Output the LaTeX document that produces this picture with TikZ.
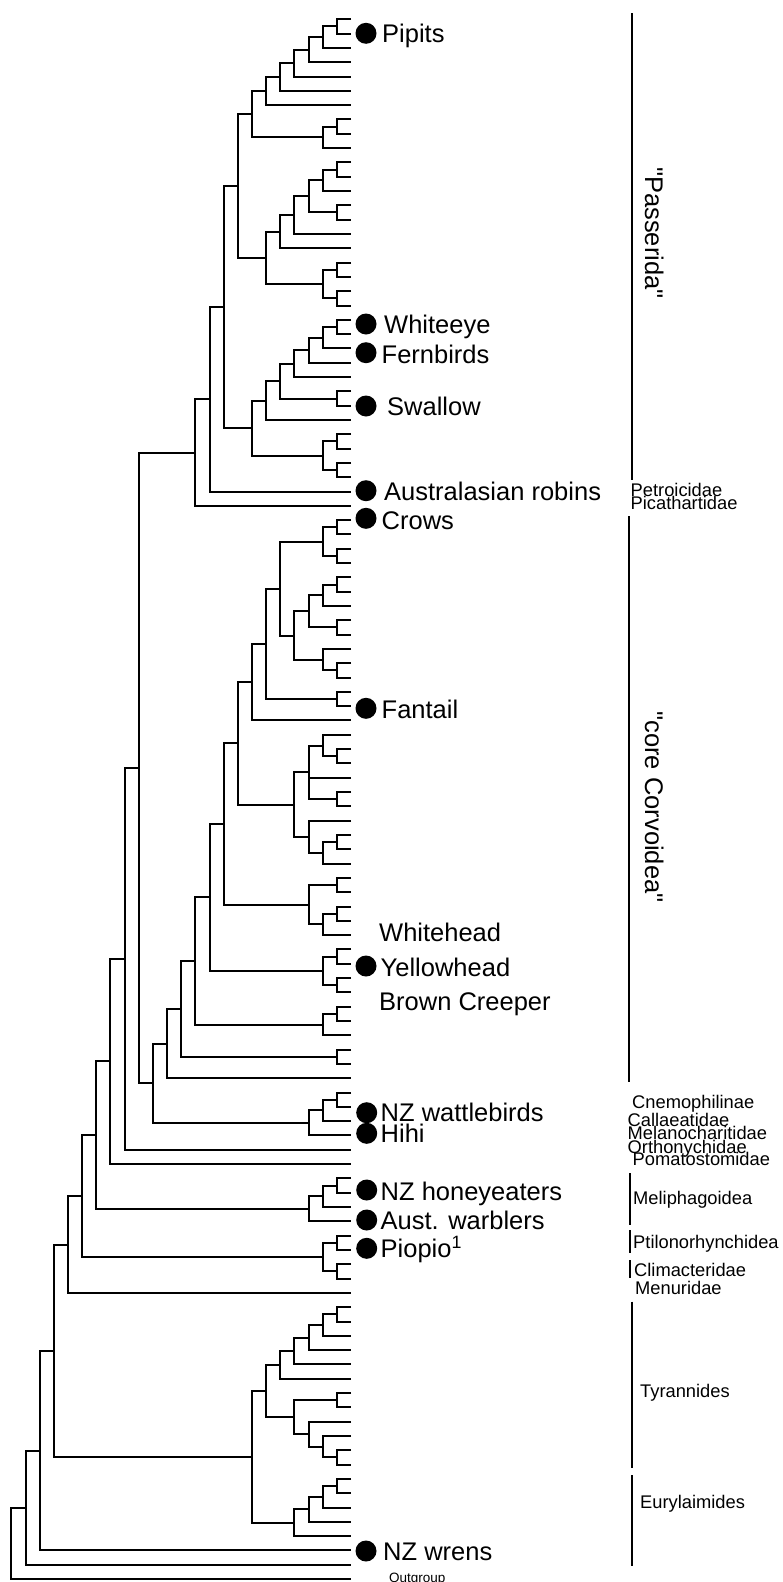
\documentclass[tikz,border=0pt]{standalone}
\usepackage{fontspec}
\setmainfont{Liberation Sans}
\usetikzlibrary{calc}
\tikzset{
  branch/.style={line width=2pt},
  cladebar/.style={line width=2.2pt},
  blob/.style={circle,fill=black,inner sep=0pt,minimum size=21pt},
  taxon/.style={anchor=base west,inner sep=0pt,font=\fontsize{25.5}{26}\selectfont},
  famlabel/.style={anchor=base west,inner sep=0pt,font=\fontsize{18.3}{18}\selectfont},
  grouplabel/.style={anchor=base,rotate=-90,inner sep=0pt,font=\fontsize{25.5}{26}\selectfont},
}
% #1 name, #2 steps back from the tips, #3 first child, #4 last child
\newcommand\clade[4]{%
  \path let \p1=($(#3)!.5!(#4)$) in coordinate (#1) at ({351-14.15*#2},\y1);
  \draw[branch] (#3) -| (#1) |- (#4);
}
\begin{document}
\begin{tikzpicture}[x=1pt,y=-1pt]
\useasboundingbox (0,0) rectangle (783,1582);
% tips
\foreach \i in {0,...,109}
  \coordinate (l\i) at (351,{19.3+14.31*\i});
% Passerida
\clade{pa1}{1}{l0}{l1}
\clade{pa2}{2}{pa1}{l2}
\clade{pa3}{3}{pa2}{l3}
\clade{pa4}{4}{pa3}{l4}
\clade{pa5}{5}{pa4}{l5}
\clade{pa6}{6}{pa5}{l6}
\clade{pb1}{1}{l7}{l8}
\clade{pb2}{2}{pb1}{l9}
\clade{pa7}{7}{pa6}{pb2}
\clade{pc1}{1}{l10}{l11}
\clade{pc2}{2}{pc1}{l12}
\clade{pc3}{1}{l13}{l14}
\clade{pc4}{3}{pc2}{pc3}
\clade{pc5}{4}{pc4}{l15}
\clade{pc6}{5}{pc5}{l16}
\clade{pd1}{1}{l17}{l18}
\clade{pd2}{1}{l19}{l20}
\clade{pd3}{2}{pd1}{pd2}
\clade{pc7}{6}{pc6}{pd3}
\clade{pa8}{8}{pa7}{pc7}
\clade{pe1}{1}{l21}{l22}
\clade{pe2}{2}{pe1}{l23}
\clade{pe3}{3}{pe2}{l24}
\clade{pe4}{4}{pe3}{l25}
\clade{pe5}{1}{l26}{l27}
\clade{pe6}{5}{pe4}{pe5}
\clade{pe7}{6}{pe6}{l28}
\clade{pf1}{1}{l29}{l30}
\clade{pf2}{1}{l31}{l32}
\clade{pf3}{2}{pf1}{pf2}
\clade{pe8}{7}{pe7}{pf3}
\clade{pa9}{9}{pa8}{pe8}
\clade{pa10}{10}{pa9}{l33}
\clade{pa11}{11}{pa10}{l34}
% core Corvoidea
\clade{co1}{1}{l35}{l36}
\clade{co2}{1}{l37}{l38}
\clade{co3}{2}{co1}{co2}
\clade{co4}{1}{l39}{l40}
\clade{co5}{2}{co4}{l41}
\clade{co6}{1}{l42}{l43}
\clade{co7}{3}{co5}{co6}
\clade{co8}{1}{l45}{l46}
\clade{co9}{2}{l44}{co8}
\clade{co10}{4}{co7}{co9}
\clade{co11}{5}{co3}{co10}
\clade{co12}{1}{l47}{l48}
\clade{co13}{6}{co11}{co12}
\clade{co14}{7}{co13}{l49}
\clade{co15}{1}{l51}{l52}
\clade{co16}{2}{l50}{co15}
\clade{co17}{1}{l54}{l55}
\clade{co18}{3}{co16}{co17}
\draw[branch] (l53) -| (co18);
\clade{co19}{1}{l57}{l58}
\clade{co20}{2}{co19}{l59}
\clade{co21}{3}{l56}{co20}
\clade{co22}{4}{co18}{co21}
\clade{co23}{8}{co14}{co22}
\clade{co24}{1}{l60}{l61}
\clade{co25}{1}{l62}{l63}
\clade{co26}{2}{co25}{l64}
\clade{co27}{3}{co24}{co26}
\clade{co28}{9}{co23}{co27}
\clade{co29}{1}{l65}{l66}
\clade{co30}{1}{l67}{l68}
\clade{co31}{2}{co29}{co30}
\clade{co32}{10}{co28}{co31}
\clade{co33}{1}{l69}{l70}
\clade{co34}{2}{co33}{l71}
\clade{co35}{11}{co32}{co34}
\clade{co36}{1}{l72}{l73}
\clade{co37}{12}{co35}{co36}
\clade{co38}{13}{co37}{l74}
\clade{wa1}{1}{l75}{l76}
\clade{wa2}{2}{wa1}{l77}
\clade{wa3}{3}{wa2}{l78}
\clade{co39}{14}{co38}{wa3}
% backbone
\clade{bb15}{15}{pa11}{co39}
\clade{bb16}{16}{bb15}{l79}
\clade{bb17}{17}{bb16}{l80}
\clade{me1}{1}{l81}{l82}
\clade{me2}{2}{me1}{l83}
\clade{me3}{3}{me2}{l84}
\clade{bb18}{18}{bb17}{me3}
\clade{pt1}{1}{l85}{l86}
\clade{pt2}{1}{l87}{l88}
\clade{pt3}{2}{pt1}{pt2}
\clade{bb19}{19}{bb18}{pt3}
\clade{bb20}{20}{bb19}{l89}
% suboscines
\clade{ty1}{1}{l90}{l91}
\clade{ty2}{2}{ty1}{l92}
\clade{ty3}{3}{ty2}{l93}
\clade{ty4}{4}{ty3}{l94}
\clade{ty5}{5}{ty4}{l95}
\clade{ty6}{1}{l96}{l97}
\clade{ty7}{1}{l100}{l101}
\clade{ty8}{2}{l99}{ty7}
\clade{ty9}{3}{l98}{ty8}
\clade{ty10}{4}{ty6}{ty9}
\clade{ty11}{6}{ty5}{ty10}
\clade{eu1}{1}{l102}{l103}
\clade{eu2}{2}{eu1}{l104}
\clade{eu3}{3}{eu2}{l105}
\clade{eu4}{4}{eu3}{l106}
\clade{ty12}{7}{ty11}{eu4}
\clade{bb21}{21}{bb20}{ty12}
\clade{bb22}{22}{bb21}{l107}
\clade{bb23}{23}{bb22}{l108}
\clade{bb24}{24}{bb23}{l109}
% NZ taxa
\node[blob] (bPipits) at (366,33.3) {};
\node[taxon] (tPipits) at (382,42) {Pipits};
\node[blob] (bWhiteeye) at (366,324) {};
\node[taxon] (tWhiteeye) at (384,333.3) {Whiteeye};
\node[blob] (bFernbirds) at (366,352.7) {};
\node[taxon] (tFernbirds) at (381.5,363.3) {Fernbirds};
\node[blob] (bSwallow) at (366,406) {};
\node[taxon] (tSwallow) at (387,415.5) {Swallow};
\node[blob] (bRobins) at (366,490.7) {};
\node[taxon] (tRobins) at (384,500.7) {Australasian robins};
\node[blob] (bCrows) at (366,518.3) {};
\node[taxon] (tCrows) at (381.5,529) {Crows};
\node[blob] (bFantail) at (366,708.3) {};
\node[taxon] (tFantail) at (381.5,718) {Fantail};
\node[taxon] (tWhitehead) at (379,941.5) {Whitehead};
\node[blob] (bYellowhead) at (366,966) {};
\node[taxon] (tYellowhead) at (380.5,976) {Yellowhead};
\node[taxon] (tCreeper) at (379,1010.5) {Brown Creeper};
\node[blob] (bWattle) at (366.7,1112.7) {};
\node[taxon] (tWattle) at (380.5,1121.7) {NZ wattlebirds};
\node[blob] (bHihi) at (366.7,1133.3) {};
\node[taxon] (tHihi) at (380.5,1142.7) {Hihi};
\node[blob] (bHoney) at (366.7,1190) {};
\node[taxon] (tHoney) at (380.5,1200) {NZ honeyeaters};
\node[blob] (bWarbler) at (366.7,1220) {};
\node[taxon] (tWarbler) at (380.5,1229.3) {Aust. warblers};
\node[blob] (bPiopio) at (366.7,1248.3) {};
\node[taxon] (tPiopio) at (380.5,1257.3) {Piopio\textsuperscript{1}};
\node[blob] (bWrens) at (366,1551) {};
\node[taxon] (tWrens) at (383,1560) {NZ wrens};
\node[anchor=base west,inner sep=0pt,font=\fontsize{13.5}{13}\selectfont] (tOut) at (389,1582) {Outgroup};
% groups on the right
\draw[cladebar] (632,13) -- (632,480);
\node[grouplabel] (gPasserida) at (645,233) {\textquotedbl Passerida\textquotedbl};
\node[famlabel] (fPetro) at (630.5,496) {Petroicidae};
\node[famlabel] (fPica) at (630.5,509.5) {Picathartidae};
\draw[cladebar] (629,516) -- (629,1081.7);
\node[grouplabel] (gCorvoidea) at (645,807) {\textquotedbl core Corvoidea\textquotedbl};
\node[famlabel] (fCnemo) at (632,1108) {Cnemophilinae};
\node[famlabel] (fCallae) at (627.5,1126.5) {Callaeatidae};
\node[famlabel] (fMelano) at (627.5,1139.8) {Melanocharitidae};
\node[famlabel] (fOrtho) at (627.5,1153.8) {Orthonychidae};
\node[famlabel] (fPomato) at (632.5,1165.8) {Pomatostomidae};
\draw[cladebar] (630,1173.3) -- (630,1225);
\node[famlabel] (fMeli) at (633,1204.8) {Meliphagoidea};
\draw[cladebar] (630,1230) -- (630,1252.7);
\node[famlabel] (fPtilo) at (633,1248) {Ptilonorhynchidea};
\draw[cladebar] (630,1260) -- (630,1278);
\node[famlabel] (fClim) at (634,1276) {Climacteridae};
\node[famlabel] (fMenu) at (635,1294) {Menuridae};
\draw[cladebar] (631.7,1301.7) -- (631.7,1468);
\node[famlabel] (fTyr) at (640,1397) {Tyrannides};
\draw[cladebar] (631.7,1475.3) -- (631.7,1566);
\node[famlabel] (fEury) at (640,1508) {Eurylaimides};
\end{tikzpicture}
\end{document}
